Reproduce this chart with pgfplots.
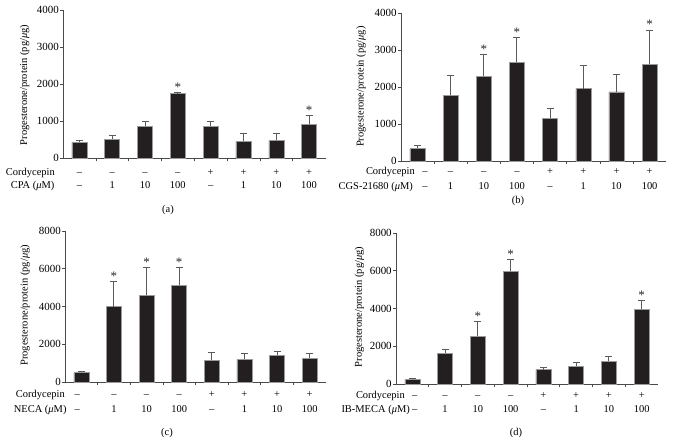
\documentclass[border=0pt]{standalone}
\usepackage{fontspec}
\setmainfont{Liberation Serif}
\usepackage{pgfplots}
\usepackage{pgfplotstable}
\pgfplotsset{compat=1.18}
\definecolor{barfill}{HTML}{231F20}
\definecolor{baredge}{HTML}{9A9A9A}
\definecolor{errc}{HTML}{5A5A5A}
\definecolor{axc}{HTML}{4A4A4A}
\newcommand{\fsz}{\fontsize{10.5}{12}\selectfont}
\newcommand{\tsz}{\fontsize{11}{12}\selectfont}

% x  y  ey
\pgfplotstableread{
x y ey
0 432 54
1 514 99
2 865 126
3 1748 36
4 865 126
5 459 208
6 486 181
7 919 243
}\dataA
\pgfplotstableread{
x y
3 1784
7 1162
}\starA
\pgfplotstableread{
x y ey
0 342 81
1 1775 540
2 2288 595
3 2667 666
4 1153 261
5 1955 631
6 1865 477
7 2613 928
}\dataB
\pgfplotstableread{
x y
2 2883
3 3333
7 3541
}\starB
\pgfplotstableread{
x y ey
0 512 53
1 3989 1341
2 4607 1465
3 5119 953
4 1147 424
5 1200 318
6 1430 211
7 1271 247
}\dataC
\pgfplotstableread{
x y
1 5330
2 6072
3 6072
}\starC
\pgfplotstableread{
x y ey
0 247 53
1 1624 229
2 2524 812
3 5966 636
4 759 141
5 935 230
6 1218 247
7 3954 477
}\dataD
\pgfplotstableread{
x y
2 3336
3 6602
7 4431
}\starD

\pgfplotsset{
  panel/.style={
    scale only axis, anchor=south west,
    axis lines*=left,
    axis line style={draw=axc, line width=0.6bp},
    xmin=-0.5, xmax=7.5, ymin=0,
    xtick={0,...,7},
    minor xtick={0.5,1.5,...,6.5},
    tick align=outside,
    major tick length=3bp, minor tick length=3bp,
    tick style={draw=axc, line width=0.6bp},
    major x tick style={draw=none},
    xticklabel style={anchor=base, inner sep=0pt, font=\fsz},
    yticklabel style={inner sep=1bp, font=\tsz},
    /pgf/number format/assume math mode=true,
    /pgf/number format/1000 sep={},
    extra x ticks={0,...,7},
    clip=false,
  },
  bars/.style={
    ybar, bar width=15bp, bar shift=0pt,
    fill=barfill, draw=baredge, line width=0.5bp,
    error bars/.cd, y dir=plus, y explicit,
    error bar style={draw=errc, line width=0.9bp},
    error mark options={rotate=90, mark size=3.5bp, draw=errc, line width=0.9bp},
  },
  stars/.style={
    draw=none, mark=none,
    nodes near coords={*},
    every node near coord/.style={anchor=base, inner sep=0pt, yshift=1bp,
      font=\fontsize{13}{13}\selectfont, text=black!85},
  },
}

\begin{document}
\begin{tikzpicture}[x=1bp,y=1bp]
\path[use as bounding box] (0,0) rectangle (673,444);

% ---------- (a)
\begin{axis}[panel, at={(63bp,285.7bp)}, width=262.5bp, height=148bp,
  ymax=4000, ytick={0,1000,...,4000},
  xticklabels={–,–,–,–,+,+,+,+},
  xticklabel style={yshift=-14.3bp},
  extra x tick labels={–,1,10,100,–,1,10,100},
  extra x tick style={xticklabel style={yshift=-13.4bp}},
]
\addplot[bars] table[x=x, y=y, y error=ey] {\dataA};
\addplot[stars] table[x=x, y=y] {\starA};
\end{axis}

% ---------- (b)
\begin{axis}[panel, at={(400.8bp,283bp)}, width=265.4bp, height=148bp,
  ymax=4000, ytick={0,1000,...,4000},
  xticklabels={\hspace*{15bp}–,–,–,–,+,+,+,+},
  xticklabel style={yshift=-11bp},
  extra x tick labels={\hspace*{15bp}–,1,10,100,–,1,10,100},
  extra x tick style={xticklabel style={yshift=-14.6bp}},
]
\addplot[bars] table[x=x, y=y, y error=ey] {\dataB};
\addplot[stars] table[x=x, y=y] {\starB};
\end{axis}

% ---------- (c)
\begin{axis}[panel, at={(65bp,62bp)}, width=261bp, height=151bp,
  ymax=8000, ytick={0,2000,...,8000},
  xticklabels={–\hspace*{8bp},–,–,–,+,+,+,+},
  xticklabel style={yshift=-12.6bp},
  extra x tick labels={–\hspace*{8bp},1,10,100,–,1,10,100},
  extra x tick style={xticklabel style={yshift=-15bp}},
]
\addplot[bars] table[x=x, y=y, y error=ey] {\dataC};
\addplot[stars] table[x=x, y=y] {\starC};
\end{axis}

% ---------- (d)
\begin{axis}[panel, at={(395.9bp,60bp)}, width=262.2bp, height=151bp,
  ymax=8000, ytick={0,2000,...,8000},
  xticklabels={\hspace*{5bp}–,–,–,–,+,+,+,+},
  xticklabel style={yshift=-11.3bp},
  extra x tick labels={\hspace*{5bp}–,1,10,100,–,1,10,100},
  extra x tick style={xticklabel style={yshift=-14bp}},
]
\addplot[bars] table[x=x, y=y, y error=ey] {\dataD};
\addplot[stars] table[x=x, y=y] {\starD};
\end{axis}

% y labels
\begin{scope}[every node/.style={font=\fsz, inner sep=0pt}]
\node[rotate=90] at (24.5,359) {Progesterone/protein (pg/\textit{μ}g)};
\node[rotate=90] at (361,357.3) {Progesterone/protein (pg/\textit{μ}g)};
\node[rotate=90] at (25,138.7) {Progesterone/protein (pg/\textit{μ}g)};
\node[rotate=90] at (359.3,137) {Progesterone/protein (pg/\textit{μ}g)};
% row labels
\node[anchor=base east] at (55,268.4) {Cordycepin};
\node[anchor=base east] at (54.5,255) {CPA (\textit{μ}M)};
\node[anchor=base east] at (415,269) {Cordycepin};
\node[anchor=base east] at (413,254.4) {CGS-21680 (\textit{μ}M)};
\node[anchor=base east] at (65,46.4) {Cordycepin};
\node[anchor=base east] at (66.7,31.4) {NECA (\textit{μ}M)};
\node[anchor=base east] at (405,45.7) {Cordycepin};
\node[anchor=base east] at (410,31.7) {IB-MECA (\textit{μ}M)};
% captions
\node at (168,234) {(a)};
\node at (518,243) {(b)};
\node at (167,11.3) {(c)};
\node at (516,10.7) {(d)};
\end{scope}
\end{tikzpicture}
\end{document}
